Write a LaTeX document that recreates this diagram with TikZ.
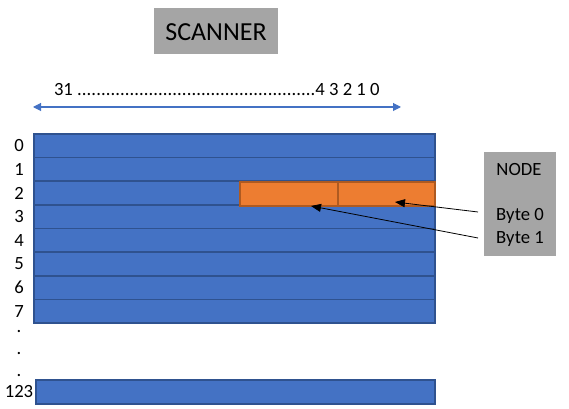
\documentclass[tikz,border=0pt]{standalone}
\usepackage{fontspec}
\setmainfont{Carlito}
\usetikzlibrary{arrows.meta}
\definecolor{rowblue}{HTML}{4472C4}
\definecolor{rowedge}{HTML}{2F528F}
\definecolor{cellorange}{HTML}{ED7D31}
\definecolor{celledge}{HTML}{AE5A21}
\definecolor{boxgray}{HTML}{A5A5A5}
\tikzset{
  rowbox/.style={draw=rowedge,fill=rowblue,line width=1.2pt,inner sep=0pt,minimum width=300.75pt,minimum height=17.72pt},
  cellbox/.style={draw=celledge,fill=cellorange,line width=1.3pt,inner sep=0pt,minimum height=18pt},
  lbl/.style={font=\fontsize{14}{17}\selectfont,inner sep=0pt},
  graybox/.style={fill=boxgray,inner sep=0pt},
  pointer/.style={-{Triangle[length=7.5pt,width=6pt]},line width=0.6pt,black},
  span/.style={{Triangle[length=6pt,width=6pt]}-{Triangle[length=6pt,width=6pt]},line width=0.8pt,draw=rowblue,color=rowblue}
}
\begin{document}
\begin{tikzpicture}[x=0.75pt,y=-0.75pt]
\useasboundingbox (0,0) rectangle (569,409);
% title
\node[graybox,minimum width=93pt,minimum height=34.5pt] (scanner) at (216,31) {};
\node[inner sep=0pt,font=\fontsize{19.5}{22}\selectfont] (scannertxt) at (216,32) {SCANNER};
% bit numbering
\node[lbl] (bits) at (217,90) {31 \makebox[179pt]{\xleaders\hbox{.}\hfill}4 3 2 1 0};
\coordinate (spanL) at (33,107);
\coordinate (spanR) at (401,107);
\draw[span] (spanL) -- (spanR);
% rows
\foreach \i in {0,...,7}{
  \node[rowbox] (r\i) at (234.5,{134+23.625*(\i+0.5)}) {};
  \node[lbl] (l\i) at (19,{134+23.625*(\i+0.5)}) {\i};
}
\node[lbl,anchor=south] (d1) at (19,333) {.};
\node[lbl,anchor=south] (d2) at (19,355) {.};
\node[lbl,anchor=south] (d3) at (19,377) {.};
\node[rowbox,minimum width=299.25pt,minimum height=18pt] (r123) at (235.5,392) {};
\node[lbl] (l123) at (19,392) {123};
% orange cells
\node[cellbox,minimum width=73.5pt] (o1) at (289,194) {};
\node[cellbox,minimum width=72.75pt] (o0) at (386.5,194) {};
% NODE box
\node[graybox,minimum width=54pt,minimum height=78pt] (nodebox) at (520,204) {};
\node[lbl] (nodetxt) at (519,170) {NODE};
\node[lbl] (b0) at (520,216) {Byte 0};
\node[lbl] (b1) at (520,239) {Byte 1};
\coordinate (a0) at (478,212);
\coordinate (a1) at (478,238);
\coordinate (t0) at (395,202);
\coordinate (t1) at (311,206);
\draw[pointer] (a0) -- (t0);
\draw[pointer] (a1) -- (t1);
\end{tikzpicture}
\end{document}
